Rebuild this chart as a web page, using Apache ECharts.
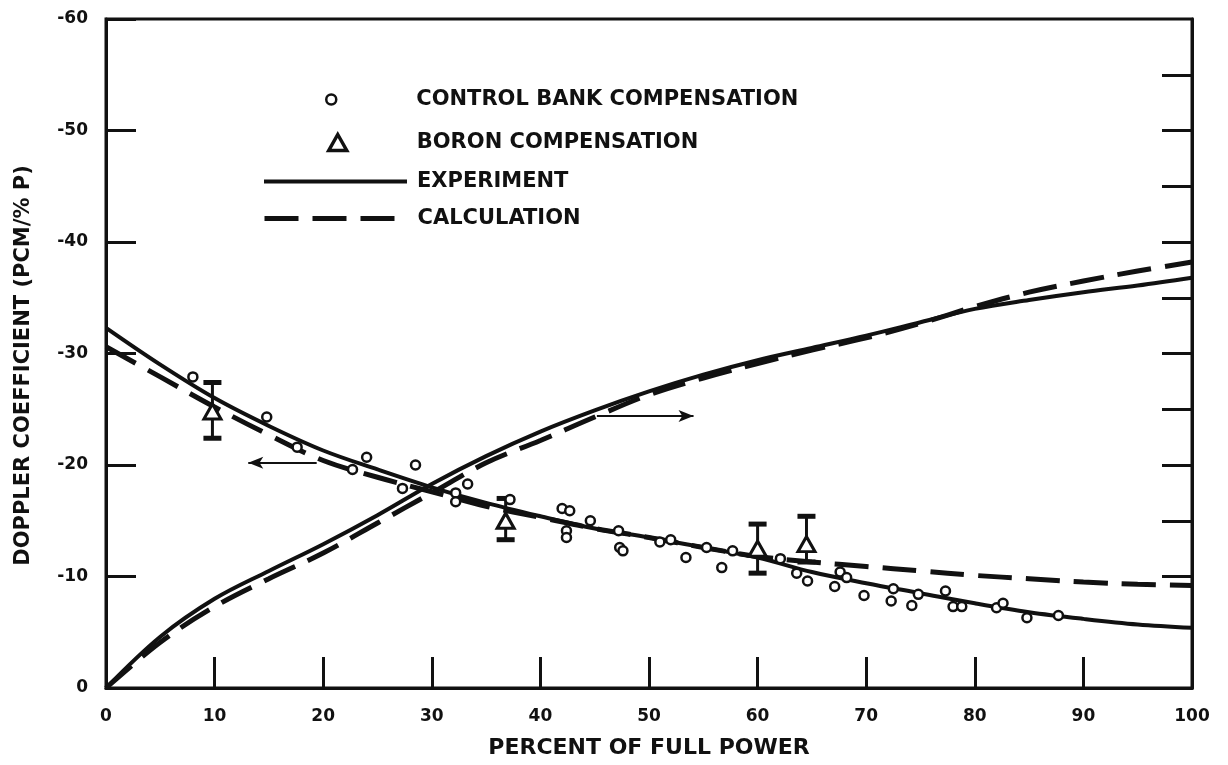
<!DOCTYPE html>
<html>
<head>
<meta charset="utf-8">
<title>Doppler Coefficient vs Power</title>
<script src="https://cdn.jsdelivr.net/npm/echarts@6/dist/echarts.min.js"></script>
<style>
  html, body { margin: 0; padding: 0; background: #ffffff; }
  #chart { width: 1228px; height: 765px; }
</style>
</head>
<body>
<div id="chart"></div>
<script>
// Power levels (% of full power) at which the fitted curves are sampled
const powerGrid = [0, 5, 10, 15, 20, 25, 30, 35, 40, 45, 50, 55, 60, 65, 70, 75, 80, 85, 90, 95, 100];

// Doppler coefficient (pcm/%P), left scale
const expCoeff  = [-32.3, -29.0, -26.0, -23.5, -21.3, -19.6, -18.0, -16.6, -15.4, -14.3, -13.5, -12.6, -11.7, -10.4, -9.4, -8.5, -7.6, -6.8, -6.2, -5.7, -5.4];
const calcCoeff = [-30.6, -27.9, -25.2, -22.7, -20.4, -18.9, -17.6, -16.3, -15.3, -14.3, -13.5, -12.6, -11.8, -11.3, -10.9, -10.5, -10.1, -9.8, -9.5, -9.3, -9.2];

// Integrated power defect, right scale
const expDefect  = [0, -4.6, -8.0, -10.5, -12.9, -15.5, -18.3, -20.8, -23.0, -24.9, -26.6, -28.1, -29.4, -30.5, -31.6, -32.8, -34.0, -34.8, -35.5, -36.1, -36.8];
const calcDefect = [0, -4.1, -7.3, -9.8, -12.1, -14.8, -17.5, -20.2, -22.2, -24.3, -26.3, -27.8, -29.1, -30.3, -31.4, -32.7, -34.2, -35.5, -36.5, -37.4, -38.2];

// Control bank compensation measurements
const bankPower = [8.0, 14.8, 17.6, 24.0, 22.7, 28.5, 27.3, 33.3, 32.2, 32.2, 37.2, 42.0, 42.7, 42.4, 42.4, 44.6, 47.2, 47.3, 47.6, 51.0, 52.0, 53.4, 55.3, 56.7, 57.7, 62.1, 63.6, 64.6, 67.6, 67.1, 68.2, 69.8, 72.3, 72.5, 74.2, 74.8, 77.3, 78.0, 78.8, 82.0, 82.6, 84.8, 87.7];
const bankCoeff = [-27.9, -24.3, -21.6, -20.7, -19.6, -20.0, -17.9, -18.3, -17.5, -16.7, -16.9, -16.1, -15.9, -14.1, -13.5, -15.0, -14.1, -12.6, -12.3, -13.1, -13.3, -11.7, -12.6, -10.8, -12.3, -11.6, -10.3, -9.6, -10.4, -9.1, -9.9, -8.3, -7.8, -8.9, -7.4, -8.4, -8.7, -7.3, -7.3, -7.2, -7.6, -6.3, -6.5];

// Boron compensation measurements with error bars
const boronPower = [9.8, 36.8, 60.0, 64.5];
const boronCoeff = [-24.8, -15.0, -12.5, -12.9];
const boronLow   = [-22.4, -13.3, -10.3, -11.3];
const boronHigh  = [-27.4, -17.0, -14.7, -15.4];

// Axis ticks
const xTicks = { min: 0, max: 100, step: 10 };
const yTicks = { min: -60, max: 0, step: 10 };
const rightTicks = [-10, -15, -20, -25, -30, -35, -40, -45, -50, -55];

// Direction arrows linking each curve family to its scale
const leftArrow  = { from: [19.4, -20.2], to: [13.1, -20.2] };
const rightArrow = { from: [45.2, -24.4], to: [54.1, -24.4] };

const INK = '#111111';
const FONT = 'DejaVu Sans';
const DASH = [34, 14];

const zip = (xs, ys) => xs.map((x, i) => [x, ys[i]]);

const chart = echarts.init(document.getElementById('chart'), null, { renderer: 'canvas' });

const legendText = (padLeft) => ({
  fontFamily: FONT, fontWeight: 'bold', fontSize: 21, color: INK, padding: [0, 0, 0, padLeft]
});

const legendBase = { orient: 'horizontal', padding: 0, selectedMode: false };

// Line-type legend entries show only the stroke, no marker
const hiddenMarker = { color: 'rgba(0,0,0,0)', borderWidth: 0, borderColor: 'rgba(0,0,0,0)' };

const option = {
  backgroundColor: '#ffffff',
  animation: false,
  grid: {
    left: 106, right: 36, top: 19, bottom: 77,
    show: true, borderColor: INK, borderWidth: 3, backgroundColor: 'transparent'
  },
  legend: [
    Object.assign({}, legendBase, {
      left: 325, top: 89, itemWidth: 10, itemHeight: 10,
      data: ['CONTROL BANK COMPENSATION'],
      itemStyle: { color: '#ffffff', borderColor: INK, borderWidth: 2.5 },
      textStyle: legendText(75)
    }),
    Object.assign({}, legendBase, {
      left: 327, top: 132, itemWidth: 18, itemHeight: 16,
      data: ['BORON COMPENSATION'],
      itemStyle: { color: '#ffffff', borderColor: INK, borderWidth: 3.5 },
      textStyle: legendText(65)
    }),
    Object.assign({}, legendBase, {
      left: 262, top: 171, itemWidth: 143, itemHeight: 14,
      data: ['EXPERIMENT'],
      itemStyle: hiddenMarker,
      lineStyle: { color: INK, width: 4, type: 'solid' },
      textStyle: legendText(5)
    }),
    Object.assign({}, legendBase, {
      left: 262, top: 208, itemWidth: 143, itemHeight: 14,
      data: ['CALCULATION'],
      itemStyle: hiddenMarker,
      lineStyle: { color: INK, width: 5, type: DASH },
      textStyle: legendText(5)
    })
  ],
  xAxis: {
    type: 'value',
    min: xTicks.min, max: xTicks.max, interval: xTicks.step,
    name: 'PERCENT OF FULL POWER',
    nameLocation: 'middle', nameGap: 49,
    nameTextStyle: { fontFamily: FONT, fontWeight: 'bold', fontSize: 22, color: INK },
    axisLine: { show: true, lineStyle: { color: INK, width: 3 } },
    axisTick: { show: true, inside: true, length: 31, lineStyle: { color: INK, width: 3 } },
    axisLabel: { margin: 20, fontFamily: FONT, fontWeight: 'bold', fontSize: 17, color: INK },
    splitLine: { show: false }
  },
  yAxis: [
    {
      type: 'value',
      position: 'left',
      inverse: true,
      min: yTicks.min, max: yTicks.max, interval: yTicks.step,
      name: 'DOPPLER COEFFICIENT (PCM/% P)',
      nameLocation: 'middle', nameGap: 72, nameRotate: 90,
      nameTextStyle: { fontFamily: FONT, fontWeight: 'bold', fontSize: 21, color: INK, padding: [0, 24, 0, 0] },
      axisLine: { show: true, lineStyle: { color: INK, width: 3 } },
      axisTick: { show: true, inside: true, length: 30, lineStyle: { color: INK, width: 3 } },
      axisLabel: {
        margin: 18, fontFamily: FONT, fontWeight: 'bold', fontSize: 17, color: INK,
        formatter: v => String(v)
      },
      splitLine: { show: false }
    },
    {
      type: 'value',
      position: 'right',
      inverse: true,
      min: yTicks.min, max: yTicks.max, interval: 5,
      axisLine: { show: true, lineStyle: { color: INK, width: 3 } },
      axisTick: { show: true, inside: true, length: 30, customValues: rightTicks, lineStyle: { color: INK, width: 3 } },
      axisLabel: { show: false },
      splitLine: { show: false }
    }
  ],
  series: [
    {
      name: 'EXPERIMENT',
      type: 'line',
      yAxisIndex: 0,
      data: zip(powerGrid, expCoeff),
      smooth: 0.35,
      symbol: 'none',
      color: INK,
      lineStyle: { color: INK, width: 4, type: 'solid' },
      z: 3,
      markLine: {
        silent: true,
        symbol: ['none', 'arrow'],
        symbolSize: [9, 15],
        label: { show: false },
        lineStyle: { color: INK, width: 2, type: 'solid' },
        data: [
          [{ coord: leftArrow.from }, { coord: leftArrow.to }],
          [{ coord: rightArrow.from }, { coord: rightArrow.to }]
        ]
      }
    },
    {
      name: 'CALCULATION',
      type: 'line',
      yAxisIndex: 0,
      data: zip(powerGrid, calcCoeff),
      smooth: 0.35,
      symbol: 'none',
      color: INK,
      lineStyle: { color: INK, width: 5, type: DASH },
      z: 3
    },
    {
      name: 'EXPERIMENT',
      type: 'line',
      yAxisIndex: 1,
      data: zip(powerGrid, expDefect),
      smooth: 0.35,
      symbol: 'none',
      color: INK,
      lineStyle: { color: INK, width: 4, type: 'solid' },
      z: 3
    },
    {
      name: 'CALCULATION',
      type: 'line',
      yAxisIndex: 1,
      data: zip(powerGrid, calcDefect),
      smooth: 0.35,
      symbol: 'none',
      color: INK,
      lineStyle: { color: INK, width: 5, type: DASH },
      z: 3
    },
    {
      name: 'BORON ERROR BARS',
      type: 'custom',
      yAxisIndex: 0,
      data: boronPower.map((x, i) => [x, boronLow[i], boronHigh[i]]),
      renderItem: function (params, api) {
        const x = api.value(0);
        const lo = api.coord([x, api.value(1)]);
        const hi = api.coord([x, api.value(2)]);
        const cap = 9;
        return {
          type: 'group',
          children: [
            { type: 'line', shape: { x1: hi[0], y1: hi[1], x2: lo[0], y2: lo[1] }, style: { stroke: INK, lineWidth: 3 } },
            { type: 'line', shape: { x1: hi[0] - cap, y1: hi[1], x2: hi[0] + cap, y2: hi[1] }, style: { stroke: INK, lineWidth: 5 } },
            { type: 'line', shape: { x1: lo[0] - cap, y1: lo[1], x2: lo[0] + cap, y2: lo[1] }, style: { stroke: INK, lineWidth: 5 } }
          ]
        };
      },
      z: 4,
      silent: true
    },
    {
      name: 'BORON COMPENSATION',
      type: 'scatter',
      yAxisIndex: 0,
      data: zip(boronPower, boronCoeff),
      symbol: 'triangle',
      symbolSize: [17, 15],
      color: INK,
      itemStyle: { color: '#ffffff', borderColor: INK, borderWidth: 3, opacity: 1 },
      z: 5
    },
    {
      name: 'CONTROL BANK COMPENSATION',
      type: 'scatter',
      yAxisIndex: 0,
      data: zip(bankPower, bankCoeff),
      symbol: 'circle',
      symbolSize: 9,
      color: INK,
      itemStyle: { color: '#ffffff', borderColor: INK, borderWidth: 2.5, opacity: 1 },
      z: 5
    }
  ]
};

chart.setOption(option);
</script>
</body>
</html>
